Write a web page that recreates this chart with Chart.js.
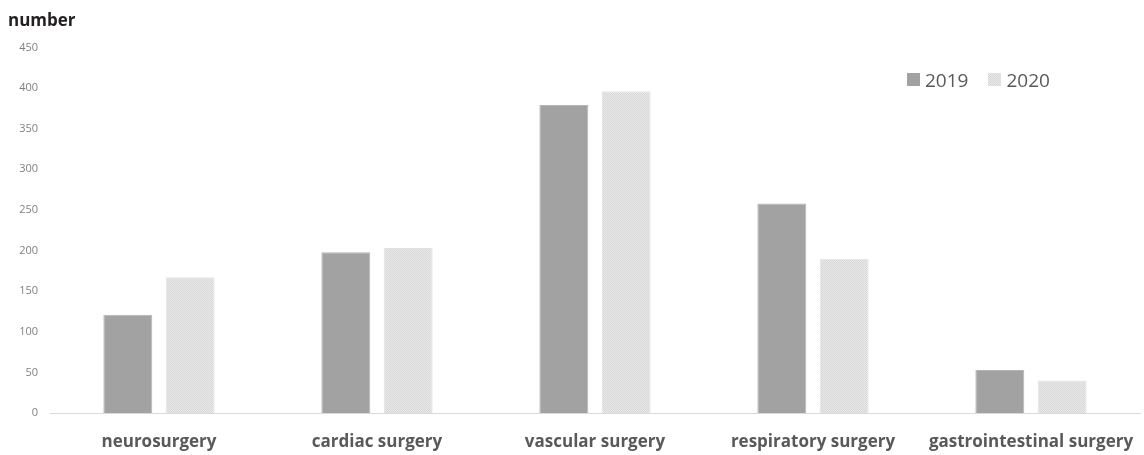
<!DOCTYPE html>
<html>
<head>
<meta charset="utf-8">
<script src="https://cdn.jsdelivr.net/npm/chart.js@4.4.0/dist/chart.umd.min.js"></script>
<style>
  html, body { margin: 0; padding: 0; background: #fff; }
  #wrap { position: relative; width: 1144px; height: 455px; }
  #legend { position: absolute; top: 66px; left: 907px; font: 19px "Open Sans", sans-serif; color: #595959; white-space: nowrap; }
  #legend span.item { display: inline-flex; align-items: center; margin-right: 20px; }
  #legend i { display: inline-block; width: 13px; height: 13px; margin-right: 5px; }
</style>
</head>
<body>
<div id="wrap">
  <canvas id="myChart" width="1144" height="455"></canvas>
  <div id="legend"></div>
</div>
<script>
let categories = ['neurosurgery', 'cardiac surgery', 'vascular surgery', 'respiratory surgery', 'gastrointestinal surgery'];
let seriesNames = ['2019', '2020'];
let values2019 = [121, 198, 379, 258, 53];
let values2020 = [167, 203, 396, 190, 40];
let yTicks = [0, 50, 100, 150, 200, 250, 300, 350, 400, 450];

// fine dotted fill used for the 2020 bars
const makePattern = () => {
    let c = document.createElement('canvas');
    c.width = 2; c.height = 2;
    let g = c.getContext('2d');
    g.fillStyle = '#e8e8e8';
    g.fillRect(0, 0, 2, 2);
    g.fillStyle = '#d8d8d8';
    g.fillRect(0, 0, 1, 1);
    g.fillRect(1, 1, 1, 1);
    return g.createPattern(c, 'repeat');
};
let pattern = makePattern();

let legend = document.getElementById('legend');
legend.innerHTML =
    `<span class="item"><i style="background:#a2a2a2"></i>${seriesNames[0]}</span>` +
    `<span class="item"><i style="background:repeating-conic-gradient(#d8d8d8 0 25%, #e8e8e8 0 50%) 0 0/2px 2px"></i>${seriesNames[1]}</span>`;

new Chart('myChart', {
    type: 'bar',
    data: {
        labels: categories,
        datasets: [{
            label: seriesNames[0],
            data: values2019,
            backgroundColor: '#a2a2a2',
            borderColor: '#b4b4b4',
            borderWidth: 1,
            categoryPercentage: 0.572,
            barPercentage: 0.785
        }, {
            label: seriesNames[1],
            data: values2020,
            backgroundColor: pattern,
            borderColor: '#e2e2e2',
            borderWidth: 1,
            categoryPercentage: 0.572,
            barPercentage: 0.785
        }]
    },
    options: {
        responsive: false,
        animation: false,
        layout: { padding: { left: 8, right: 4, top: 0, bottom: 4 } },
        plugins: {
            legend: { display: false },
            tooltip: { enabled: false },
            title: {
                display: true,
                text: 'number',
                align: 'start',
                color: '#231f20',
                font: { family: 'Open Sans', size: 17, weight: 'bold', lineHeight: 1.2 },
                padding: { top: 11, bottom: 16 }
            }
        },
        scales: {
            x: {
                grid: { display: false, drawTicks: false },
                border: { display: true, color: '#d9d9d9', width: 1 },
                ticks: {
                    color: '#595959',
                    padding: 19,
                    maxRotation: 0,
                    autoSkip: false,
                    font: { family: 'Open Sans', size: 17, weight: 'bold', lineHeight: 1.2 }
                },
                afterFit: s => { s.paddingLeft = 0; s.paddingRight = 0; s.height = 38; }
            },
            y: {
                min: 0,
                max: 450,
                grid: { display: false, drawTicks: false },
                border: { display: false },
                afterBuildTicks: s => { s.ticks = yTicks.map(v => ({ value: v })); },
                afterFit: s => { s.width = 42; },
                ticks: {
                    color: '#808080',
                    padding: 12,
                    font: { family: 'Open Sans', size: 11 }
                }
            }
        }
    }
});
</script>
</body>
</html>
